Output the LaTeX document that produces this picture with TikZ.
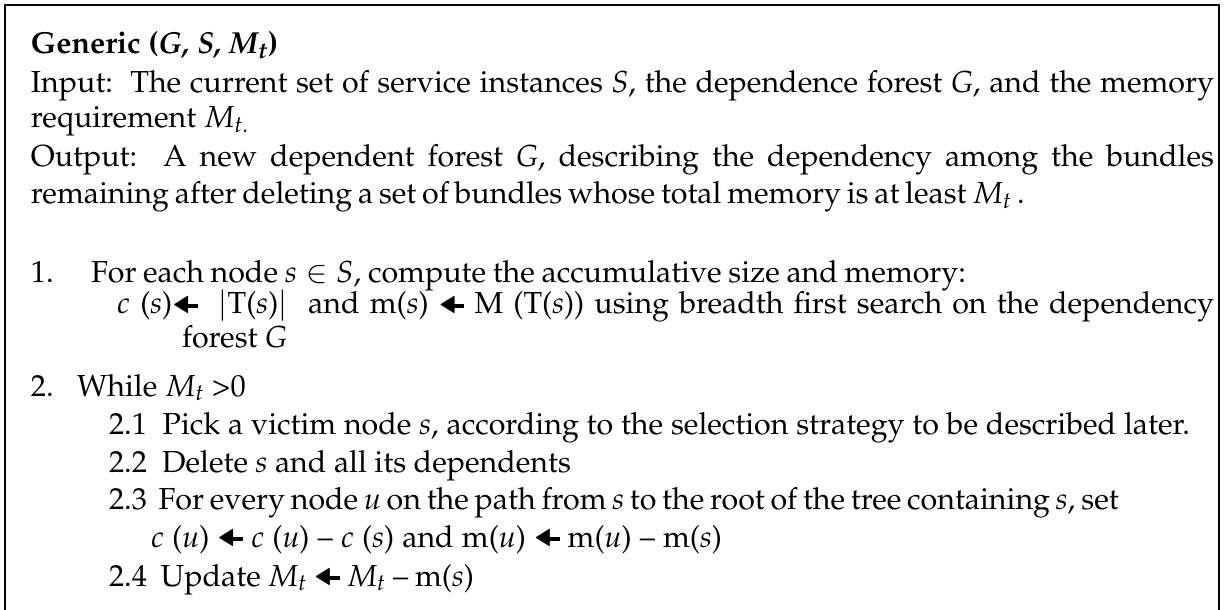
\documentclass[tikz,border=0pt]{standalone}
\usepackage[T1]{fontenc}
\usepackage{mathpazo}
\usepackage{amssymb}
\tikzset{
  line/.style={anchor=base west, inner sep=0pt, outer sep=0pt, font=\fontsize{15.2}{19}\selectfont},
  frame/.style={line width=1pt, draw=black}
}
\newcommand{\harr}{\mbox{\raisebox{0.6pt}{\scalebox{0.72}[0.95]{$\blacktriangleleft$}}\kern-1.6pt\rule[3.1pt]{5.5pt}{1.7pt}}}
\newcommand{\jline}[2]{\makebox[#1][s]{#2}}
\begin{document}
\begin{tikzpicture}[x=0.5pt,y=-0.5pt]
\useasboundingbox (0,0) rectangle (1228,610);
\draw[frame] (5,612) -- (5,5) -- (1219,5) -- (1219,612);
\node[line] (title) at (31,54) {\textbf{Generic (\textit{G, S, M\textsubscript{t}})}};
\node[line] (in1) at (31,93) {\jline{591.5pt}{Input:\ \ The current set of service instances \textit{S}, the dependence forest \textit{G}, and the memory}};
\node[line] (in2) at (31,128) {requirement $M_{t.}$};
\node[line] (out1) at (31,167) {\jline{591.5pt}{Output:\ \ A new dependent forest \textit{G}, describing the dependency among the bundles}};
\node[line] (out2) at (31,204) {\jline{438.5pt}{remaining after deleting a set of bundles whose total memory is at least $M_t$\,.}};
\node[line] (n1) at (31,283) {1.};
\node[line] (s1) at (91,283) {\jline{437.5pt}{For each node $s\in S$, compute the accumulative size and memory:}};
\node[line] (s1b) at (117,314) {\jline{548.5pt}{$c$ (\textit{s})\harr\ \ $|$T(\textit{s})$|$\ \ and m(\textit{s}) \harr\ M (T(\textit{s})) using breadth first search on the dependency}};
\node[line] (s1c) at (182,347) {forest \textit{G}};
\node[line] (n2) at (31,396) {2.};
\node[line] (s2) at (77,396) {While $M_t$ >0};
\node[line] (s21) at (109,434) {\jline{540.5pt}{2.1\ \ Pick a victim node \textit{s}, according to the selection strategy to be described later.}};
\node[line] (s22) at (109,472) {\jline{231pt}{2.2\ \ Delete \textit{s} and all its dependents}};
\node[line] (s23) at (109,509) {\jline{465.5pt}{2.3\ \ For every node \textit{u} on the path from \textit{s} to the root of the tree containing \textit{s}, set}};
\node[line] (s23b) at (151,547) {\jline{285.5pt}{$c$ (\textit{u}) \harr\ $c$ (\textit{u}) -- $c$ (\textit{s}) and m(\textit{u}) \harr\ m(\textit{u}) -- m(\textit{s})}};
\node[line] (s24) at (109,586) {\jline{182.5pt}{2.4\ \ Update $M_t$ \harr\ $M_t$ -- m(\textit{s})}};
\end{tikzpicture}
\end{document}
